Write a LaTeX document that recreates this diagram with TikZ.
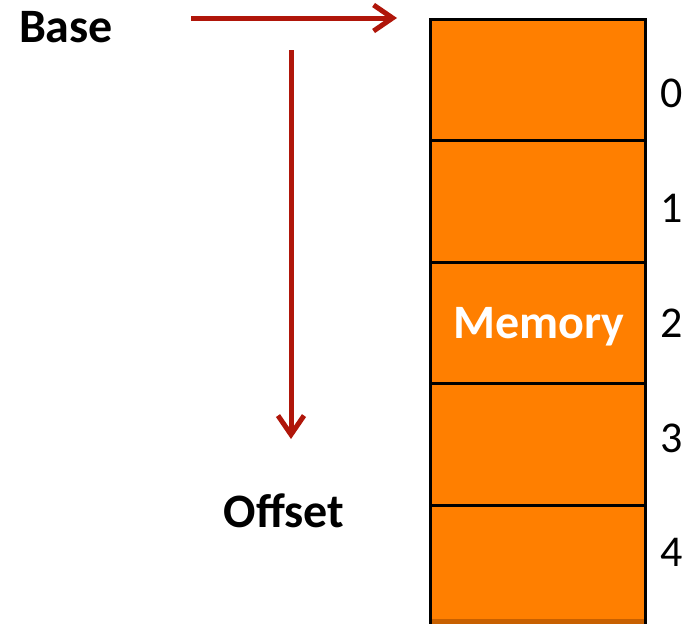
\documentclass[tikz,border=0pt]{standalone}
\usepackage{fontspec}
\setmainfont{Carlito}
\usetikzlibrary{arrows.meta}
\definecolor{memorange}{HTML}{FF7F00}
\definecolor{memshade}{HTML}{C86000}
\definecolor{arrowred}{HTML}{B0160A}
\tikzset{
  cell/.style={draw=black, line width=3pt, fill=memorange, minimum width=215pt, minimum height=121.5pt, inner sep=0pt, outer sep=0pt},
  bigbold/.style={font=\fontsize{48}{54}\selectfont\bfseries, inner sep=0pt, anchor=base},
  idx/.style={font=\fontsize{44}{50}\selectfont, inner sep=0pt, anchor=base},
  redarrow/.style={draw=arrowred, line width=5pt, -{Straight Barb[length=19pt, width=26pt, line width=5pt]}}
}
\begin{document}
\begin{tikzpicture}[x=1pt,y=-1pt]
\useasboundingbox (0,0) rectangle (694,624);
\node[cell] (c0) at (537.5,79.75) {};
\node[cell] (c1) at (537.5,201.25) {};
\node[cell] (c2) at (537.5,322.75) {};
\node[cell] (c3) at (537.5,444.25) {};
\node[cell] (c4) at (537.5,565.75) {};
\fill[memshade] (431.5,619) rectangle (643.5,624);
\node[bigbold, text=white] (mem) at (539,338) {Memory};
\node[idx] (n0) at (672,107) {0};
\node[idx] (n1) at (672,222) {1};
\node[idx] (n2) at (672,337) {2};
\node[idx] (n3) at (672,452) {3};
\node[idx] (n4) at (672,566) {4};
\node[bigbold] (base) at (66,42) {Base};
\node[bigbold] (offset) at (284,527) {Offset};
\coordinate (bs) at (191,18);
\coordinate (be) at (397,18);
\coordinate (os) at (291,50);
\coordinate (oe) at (291,439);
\draw[redarrow] (bs) -- (be);
\draw[redarrow] (os) -- (oe);
\end{tikzpicture}
\end{document}
